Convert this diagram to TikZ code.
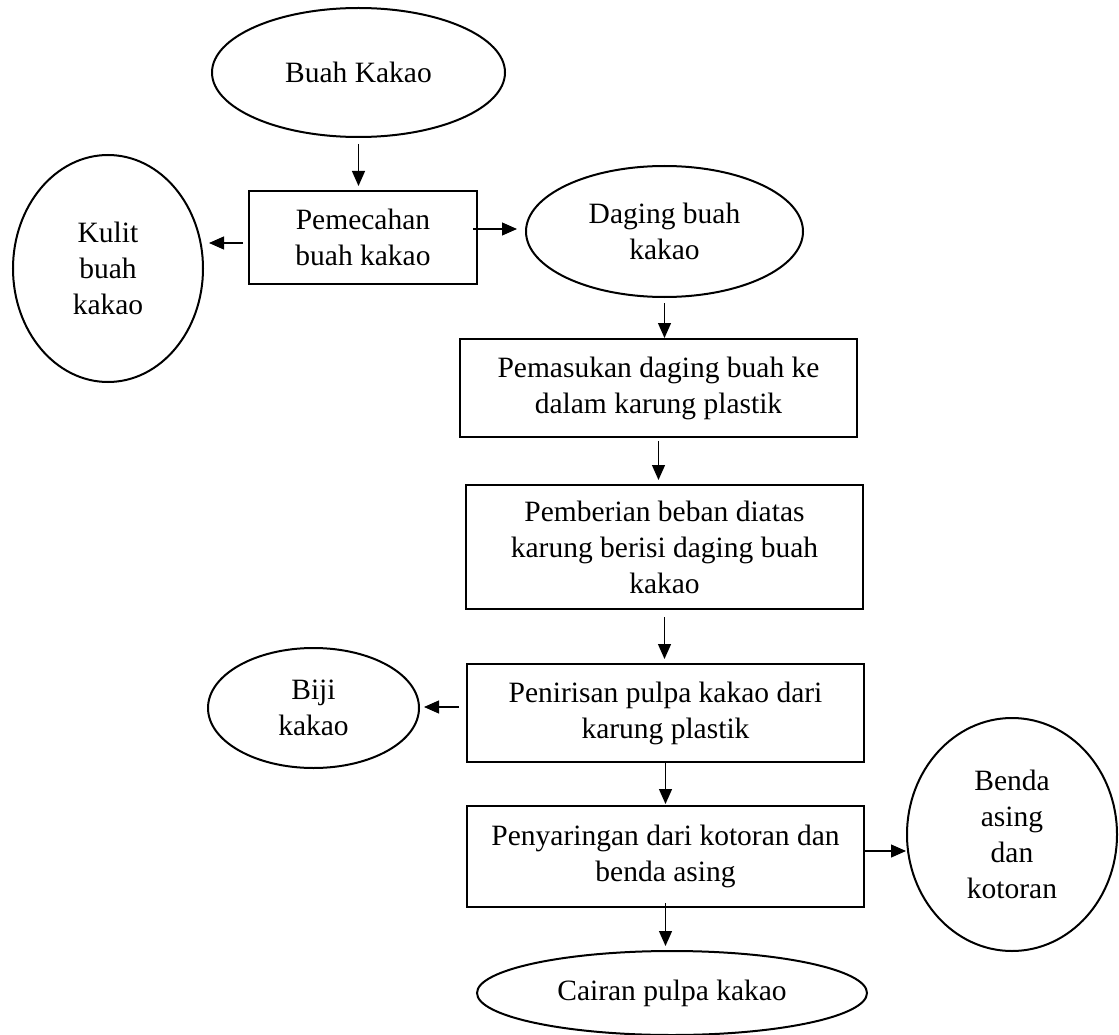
\documentclass[tikz,border=0pt]{standalone}
\usepackage{fontspec}
\setmainfont{Liberation Serif}
\usetikzlibrary{arrows.meta,shapes.geometric}
\begin{document}
\begin{tikzpicture}[x=1pt,y=1pt,
  every node/.style={font=\fontsize{29.5}{36}\selectfont, align=center, inner sep=0pt},
  oval/.style={draw, ellipse, line width=2pt},
  stepbox/.style={draw, rectangle, line width=2pt},
  arr/.style={-{Triangle[length=15pt,width=13pt]}, line width=1.2pt}]
\useasboundingbox (0,0) rectangle (1119,-1035);

% process steps and products
\node[oval, minimum width=293pt, minimum height=129pt] (buah) at (358.5,-72.5) {Buah Kakao};
\node[stepbox, minimum width=228pt, minimum height=93pt] (pem) at (363,-237.5) {Pemecahan\\buah kakao};
\node[oval, minimum width=190pt, minimum height=227pt] (kulit) at (108,-268.5) {Kulit\\buah\\kakao};
\node[oval, minimum width=277pt, minimum height=131pt] (dag) at (664.5,-231.5) {Daging buah\\kakao};
\node[stepbox, minimum width=397pt, minimum height=98pt] (pmk) at (658.5,-388) {Pemasukan daging buah ke\\dalam karung plastik};
\node[stepbox, minimum width=397pt, minimum height=124pt] (pbr) at (664.5,-547) {Pemberian beban diatas\\karung berisi daging buah\\kakao};
\node[stepbox, minimum width=397pt, minimum height=98pt] (pnr) at (665.5,-713) {Penirisan pulpa kakao dari\\karung plastik};
\node[oval, minimum width=211pt, minimum height=120pt] (biji) at (313.5,-708) {Biji\\kakao};
\node[stepbox, minimum width=397pt, minimum height=101pt] (pny) at (665.5,-856.5) {Penyaringan dari kotoran dan\\benda asing};
\node[oval, minimum width=210pt, minimum height=233pt] (benda) at (1012,-834.5) {Benda\\asing\\dan\\kotoran};
\node[oval, minimum width=390pt, minimum height=84pt] (cair) at (672,-993) {Cairan pulpa kakao};

% flow arrows
\draw[arr, shorten <=6pt, shorten >=4pt] (buah.south) -- (buah.south |- pem.north);
\draw[arr, shorten <=5pt, shorten >=5pt] ([yshift=-5.5pt]pem.west) -- ([yshift=-5.5pt]pem.west -| kulit.east);
\draw[arr, shorten <=-5pt, shorten >=8pt] ([yshift=8.5pt]pem.east) -- ([yshift=8.5pt]pem.east -| dag.west);
\draw[arr, shorten <=5pt] (dag.south) -- (dag.south |- pmk.north);
\draw[arr, shorten <=3pt, shorten >=4pt] (pmk.south) -- (pmk.south |- pbr.north);
\draw[arr, shorten <=7pt, shorten >=4pt] (pbr.south) -- (pbr.south |- pnr.north);
\draw[arr, shorten <=7pt, shorten >=4pt] ([yshift=6pt]pnr.west) -- ([yshift=6pt]pnr.west -| biji.east);
\draw[arr, shorten >=1pt] (pnr.south) -- (pnr.south |- pny.north);
\draw[arr] ([yshift=5.5pt]pny.east) -- ([yshift=5.5pt]pny.east -| benda.west);
\draw[arr, shorten <=-5pt, shorten >=4pt] (pny.south) -- (pny.south |- cair.north);
\end{tikzpicture}
\end{document}
